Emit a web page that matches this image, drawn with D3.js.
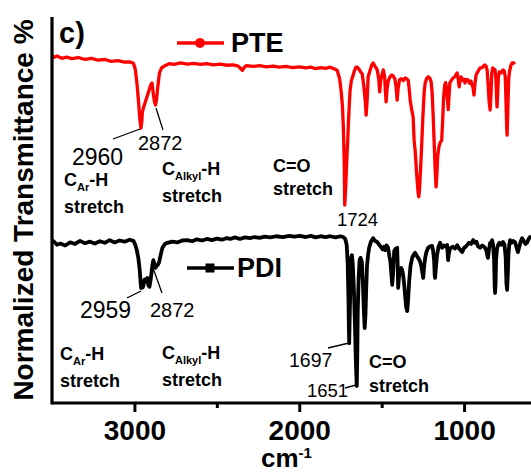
<!DOCTYPE html>
<html><head><meta charset="utf-8">
<script src="https://cdn.jsdelivr.net/npm/d3@7"></script>
<style>html,body{margin:0;padding:0;background:#fff;} svg{display:block;}</style>
</head><body>
<svg id="c" width="531" height="472"></svg>
<script>
// ---- data ----
const seriesNames = ["PTE", "PDI"];
const xTicks = [3000, 2000, 1000];
const xMinorTicks = [2500, 1500];
const wnPTE = [3500,3490,3470,3440,3410,3380,3340,3300,3260,3220,3180,3140,3100,3060,3030,3006,2995,2985,2975,2967,2960,2955,2952,2945,2930,2915,2900,2893,2885,2878,2872,2866,2858,2848,2835,2815,2790,2760,2720,2680,2640,2600,2560,2520,2480,2440,2400,2370,2355,2345,2335,2320,2280,2240,2200,2160,2120,2080,2040,2000,1960,1930,1900,1870,1840,1812,1790,1770,1755,1745,1738,1732,1727,1724,1718,1712,1706,1699,1692,1684,1676,1666,1656,1648,1638,1628,1618,1608,1600,1594,1588,1582,1570,1560,1552,1540,1527,1518,1512,1506,1497,1490,1482,1477,1473,1467,1460,1448,1438,1430,1420,1413,1406,1400,1392,1380,1368,1358,1348,1339,1332,1327,1318,1309,1303,1297,1288,1280,1275,1270,1264,1258,1250,1242,1236,1228,1218,1208,1200,1194,1188,1182,1176,1170,1165,1160,1152,1145,1136,1130,1125,1118,1112,1106,1100,1096,1092,1086,1078,1067,1055,1042,1036,1030,1024,1018,1010,1000,994,986,976,966,958,952,946,940,933,927,921,912,903,890,880,873,865,860,854,848,842,837,832,826,818,812,807,803,800,796,792,786,776,764,756,750,746,741,739,736,733,729,724,716,709,700,691];
const tPTE = [90.2,89.5,89.9,89.3,89.6,89.2,89.5,89.0,89.3,88.8,89.0,88.5,88.7,88.3,88.4,88.0,86.5,83.0,78.0,73.5,71.2,73.0,75.3,76.5,78.5,80.5,82.5,82.9,80.0,78.0,77.2,78.5,82.0,85.5,86.8,87.4,87.9,87.7,88.1,87.8,88.0,87.7,87.9,87.6,87.8,87.5,87.6,87.3,86.6,86.2,86.9,87.4,87.2,87.4,87.1,87.3,87.0,87.2,86.9,87.1,86.8,87.0,86.6,86.9,86.7,87.0,86.6,86.2,84.0,80.5,77.0,71.0,62.0,51.3,56.0,62.5,68.0,75.0,80.8,83.5,84.5,86.0,87.0,87.0,86.5,85.8,85.3,82.0,78.5,74.6,78.5,84.5,86.2,87.6,88.1,87.2,86.3,84.0,80.6,83.5,85.2,86.3,84.5,80.5,78.0,81.5,83.5,84.6,85.0,84.7,84.0,82.0,78.5,81.5,83.7,84.0,83.5,84.2,84.0,83.6,81.0,78.5,76.0,74.1,68.1,65.5,59.5,55.0,53.4,55.5,60.5,66.0,74.0,80.5,82.9,84.0,84.5,84.2,83.2,80.5,75.0,68.1,61.0,56.0,59.0,64.0,66.5,67.5,68.0,73.0,78.5,82.2,83.0,81.5,78.0,76.0,79.0,83.0,83.5,84.2,84.6,85.5,84.0,81.9,83.5,84.5,83.6,83.9,82.9,83.8,83.7,82.8,83.4,82.4,81.8,79.8,83.0,85.0,85.5,86.2,86.8,86.9,87.4,87.6,87.1,86.2,82.5,78.0,75.9,79.5,85.5,86.8,86.5,86.3,84.0,79.5,76.7,80.0,84.5,85.8,85.5,86.3,85.9,84.5,78.5,71.0,69.4,73.5,78.5,84.0,86.0,87.4,88.1,88.0,88.3];
const wnPDI = [3500,3490,3470,3450,3420,3390,3360,3330,3300,3270,3240,3210,3180,3150,3120,3090,3060,3030,3006,2995,2985,2976,2968,2962,2959,2955,2950,2945,2938,2930,2921,2915,2909,2903,2897,2890,2885,2878,2872,2866,2858,2850,2840,2830,2815,2800,2770,2740,2710,2680,2650,2620,2590,2560,2530,2500,2470,2440,2418,2390,2360,2330,2300,2270,2240,2210,2176,2140,2100,2060,2030,1994,1960,1930,1900,1870,1840,1812,1780,1750,1733,1721,1712,1706,1702,1699,1697,1694,1690,1686,1680,1674,1668,1662,1656,1651,1648,1645,1640,1634,1628,1620,1614,1608,1603,1598,1594,1589,1582,1576,1565,1552,1540,1527,1515,1505,1495,1485,1479,1470,1461,1453,1448,1442,1436,1430,1424,1415,1406,1403,1400,1395,1388,1382,1376,1370,1364,1358,1352,1345,1340,1333,1325,1315,1305,1297,1288,1279,1270,1261,1254,1248,1242,1236,1228,1218,1208,1194,1188,1182,1178,1176,1172,1164,1155,1145,1133,1120,1110,1103,1100,1097,1093,1085,1079,1068,1055,1042,1030,1020,1012,1000,990,982,970,958,945,935,925,915,903,890,880,873,865,858,855,850,842,835,830,824,818,814,812,809,806,800,794,785,775,764,755,748,743,739,735,731,726,721,712,703,691,683,673,665,655,648,638,628,618,610,600,594];
const tPDI = [41.5,41.9,41.0,41.3,40.8,41.6,41.2,42.0,41.4,41.8,41.3,41.9,41.5,42.2,41.6,42.1,41.8,42.3,42.0,41.0,39.5,37.5,34.5,31.0,29.8,31.5,29.9,30.5,32.0,31.5,32.4,30.5,30.1,31.5,33.5,36.0,37.0,35.8,35.0,35.5,35.8,36.5,38.5,40.2,41.2,41.5,41.8,41.6,42.1,42.2,41.9,42.4,42.1,42.5,42.2,42.6,42.3,42.7,42.5,42.9,42.5,42.9,42.7,43.0,42.8,43.1,42.9,43.2,43.0,43.3,43.1,43.3,43.0,43.3,42.9,43.2,43.0,43.2,42.9,43.2,43.0,42.5,40.9,36.0,28.0,20.0,15.5,22.0,30.0,37.6,38.3,35.0,28.8,20.0,10.0,4.4,12.0,24.0,32.0,37.0,37.6,36.5,31.0,24.0,19.4,23.0,29.3,35.5,38.5,40.2,41.8,42.7,42.0,41.7,41.0,40.5,39.8,40.5,39.6,40.8,40.2,38.0,37.0,34.0,30.6,34.0,39.4,40.0,40.2,36.0,29.8,32.5,34.5,35.0,34.5,33.2,31.0,28.0,25.0,23.8,26.5,31.6,35.5,37.6,38.5,38.9,38.2,37.6,37.0,35.8,34.0,32.4,35.5,37.6,39.2,40.2,40.5,40.7,39.5,37.0,33.0,32.4,34.5,38.3,40.5,41.5,40.2,40.8,40.5,40.9,39.0,37.0,38.5,40.0,40.2,40.5,40.0,40.9,40.0,39.5,39.1,40.2,40.5,40.9,41.5,41.2,42.2,41.5,41.8,40.6,40.2,40.8,40.5,40.2,39.5,38.0,37.6,39.5,41.5,41.0,42.2,41.0,37.0,30.0,28.5,31.0,37.0,40.0,40.9,41.5,41.0,41.7,41.0,38.0,31.0,29.3,33.0,38.3,41.0,42.2,41.5,42.0,41.7,40.5,39.1,40.5,42.0,42.7,42.0,41.2,41.5,42.4,43.0,42.7];

(function () {
// ---- layout ----
const mLeft = 52, mRight = 531, mTop = 17, mBottom = 403;
const FONT = "'Liberation Sans', Arial, Helvetica, sans-serif";
const svg = d3.select("#c");

const x = d3.scaleLinear().domain([3500, 594]).range([mLeft, mRight]);
const y = d3.scaleLinear().domain([0, 100]).range([mBottom, mTop]);

const line = d3.line().x(d => x(d[0])).y(d => y(d[1]));
const ptePts = wnPTE.map((w, i) => [w, tPTE[i]]);
const pdiPts = wnPDI.map((w, i) => [w, tPDI[i]]);

svg.append("path").datum(pdiPts).attr("d", line)
  .attr("fill", "none").attr("stroke", "#000").attr("stroke-width", 3.8).attr("stroke-linejoin", "round");
svg.append("path").datum(ptePts).attr("d", line)
  .attr("fill", "none").attr("stroke", "#ff0000").attr("stroke-width", 3.3).attr("stroke-linejoin", "round");

// axes
const xAxis = d3.axisBottom(x).tickValues(xTicks).tickSize(9).tickFormat(d3.format("d"));
const gx = svg.append("g").attr("transform", `translate(0,${mBottom})`).call(xAxis);
gx.select(".domain").remove();
gx.selectAll(".tick line").attr("stroke", "#000").attr("stroke-width", 3);
gx.selectAll(".tick text").attr("font-family", FONT).attr("font-weight", "bold")
  .attr("font-size", 28).attr("fill", "#000").attr("dy", 0).attr("y", 37);
const gxm = svg.append("g").attr("transform", `translate(0,${mBottom})`)
  .call(d3.axisBottom(x).tickValues(xMinorTicks).tickSize(5).tickFormat(""));
gxm.select(".domain").remove();
gxm.selectAll(".tick line").attr("stroke", "#000").attr("stroke-width", 3);

svg.append("line").attr("x1", mLeft).attr("x2", mRight).attr("y1", mBottom).attr("y2", mBottom)
  .attr("stroke", "#000").attr("stroke-width", 3.2);
svg.append("line").attr("x1", mLeft).attr("x2", mLeft).attr("y1", mTop).attr("y2", mBottom + 1.6)
  .attr("stroke", "#000").attr("stroke-width", 3.2);

// axis titles
svg.append("text").attr("transform", "translate(33,210) rotate(-90)")
  .attr("text-anchor", "middle").attr("font-family", FONT).attr("font-weight", "bold")
  .attr("font-size", 28).text("Normalized Transmittance %");
const xt = svg.append("text").attr("x", 261).attr("y", 467)
  .attr("font-family", FONT).attr("font-weight", "bold").attr("font-size", 26);
xt.append("tspan").text("cm");
xt.append("tspan").attr("font-size", 15).attr("dy", -9).text("-1");

// panel label
svg.append("text").attr("x", 59).attr("y", 43).attr("font-family", FONT)
  .attr("font-weight", "bold").attr("font-size", 29).text("c)");

// legends
svg.append("line").attr("x1", 177).attr("x2", 224).attr("y1", 43).attr("y2", 43)
  .attr("stroke", "#ff0000").attr("stroke-width", 3.3);
svg.append("circle").attr("cx", 200).attr("cy", 43).attr("r", 5).attr("fill", "#ff0000");
svg.append("text").attr("x", 231).attr("y", 52).attr("font-family", FONT)
  .attr("font-weight", "bold").attr("font-size", 27).text(seriesNames[0]);
svg.append("line").attr("x1", 187).attr("x2", 234).attr("y1", 268).attr("y2", 268)
  .attr("stroke", "#000").attr("stroke-width", 3.3);
svg.append("rect").attr("x", 205.5).attr("y", 263.5).attr("width", 9).attr("height", 9).attr("fill", "#000");
svg.append("text").attr("x", 237).attr("y", 277).attr("font-family", FONT)
  .attr("font-weight", "bold").attr("font-size", 27).text(seriesNames[1]);

// annotations
function num(t, xx, yy, fs) {
  svg.append("text").attr("x", xx).attr("y", yy).attr("font-family", FONT)
    .attr("font-size", fs).attr("fill", "#000").text(t);
}
function lead(x1, y1, x2, y2) {
  svg.append("line").attr("x1", x1).attr("y1", y1).attr("x2", x2).attr("y2", y2)
    .attr("stroke", "#000").attr("stroke-width", 1.3);
}
function bond(xx, yy, sub, fs) {
  const t = svg.append("text").attr("x", xx).attr("y", yy).attr("font-family", FONT)
    .attr("font-weight", "bold").attr("font-size", fs);
  t.append("tspan").text("C");
  t.append("tspan").attr("font-size", 11).attr("dy", 5).text(sub);
  t.append("tspan").attr("dy", -5).text("-H");
  svg.append("text").attr("x", xx).attr("y", yy + 27).attr("font-family", FONT)
    .attr("font-weight", "bold").attr("font-size", fs).text("stretch");
}
function co(xx, yy, gap) {
  svg.append("text").attr("x", xx).attr("y", yy).attr("font-family", FONT)
    .attr("font-weight", "bold").attr("font-size", 18).text("C=O");
  svg.append("text").attr("x", xx).attr("y", yy + gap).attr("font-family", FONT)
    .attr("font-weight", "bold").attr("font-size", 18).text("stretch");
}

// PTE
num("2960", 72, 165, 23); lead(113, 139, 140, 129);
num("2872", 138, 150, 20); lead(156, 108, 163, 130);
num("1724", 337, 226, 18.5);
bond(64, 186, "Ar", 18);
bond(162, 175, "Alkyl", 18);
co(273, 172, 23);

// PDI
num("2959", 80, 318, 23); lead(127, 298, 141, 291);
num("2872", 150, 317, 20); lead(153, 268, 162, 293);
num("1697", 289, 367, 19.5); lead(328, 348, 349, 343);
num("1651", 307, 397, 18.5); lead(345, 388, 356, 385);
bond(60, 360, "Ar", 18);
bond(162, 359, "Alkyl", 18);
co(369, 368, 24);
})();
</script>
</body></html>
